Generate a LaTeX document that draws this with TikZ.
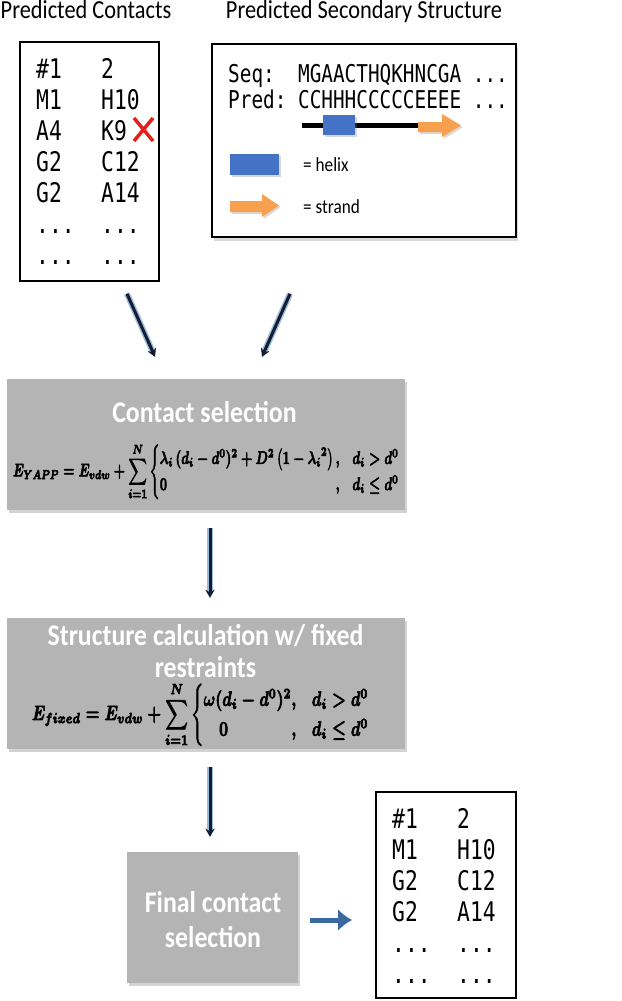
\documentclass[tikz,border=0pt]{standalone}
\usepackage{amsmath}
\usepackage{bm}
\usepackage{graphicx}
\usepackage[no-math]{fontspec}
\setmainfont{Carlito}[FakeStretch=0.86]
\newfontfamily\codefont{DejaVu Sans Mono}[FakeStretch=0.79]
\usetikzlibrary{arrows.meta,shadows}

\definecolor{helixblue}{RGB}{68,114,196}
\definecolor{strandorange}{RGB}{247,160,80}
\definecolor{boxgray}{RGB}{180,180,180}
\definecolor{navy}{RGB}{20,28,50}
\definecolor{glowblue}{RGB}{90,140,200}
\definecolor{steelblue}{RGB}{58,104,160}
\definecolor{crossred}{RGB}{228,32,28}
\newcommand{\tdots}{...}
% heavier strokes for the energy terms
\newcommand{\heavyon}{\special{pdf:literal direct 2 Tr 0.35 w}}
\newcommand{\heavyoff}{\special{pdf:literal direct 0 Tr}}

\begin{document}
\begin{tikzpicture}[x=1pt,y=-1pt,
  framebox/.style={draw=black, line width=1.6pt, inner sep=0pt},
  stepbox/.style={fill=boxgray, inner sep=0pt, drop shadow={shadow xshift=2pt,shadow yshift=-3pt,opacity=0.35}},
  steptitle/.style={text=white, font=\fontsize{30}{32}\selectfont\bfseries, anchor=base, align=center, inner sep=0pt},
  heading/.style={font=\fontsize{26}{28}\selectfont, anchor=base, inner sep=0pt},
  listtext/.style={font=\codefont\fontsize{27}{29}\selectfont, anchor=base west, inner sep=0pt},
  seqtext/.style={font=\codefont\fontsize{24.5}{26}\selectfont, anchor=base west, inner sep=0pt},
  legendtext/.style={font=\fontsize{20}{22}\selectfont, anchor=base west, inner sep=0pt},
  smallshadow/.style={drop shadow={shadow xshift=1.5pt,shadow yshift=-2pt,opacity=0.3}},
  flow/.style={draw=navy, line width=3pt, -{Stealth[length=8pt,width=9pt]},
    preaction={draw=glowblue, line width=6pt, opacity=0.6}},
  resultarrow/.style={draw=steelblue, line width=5pt, -{Latex[length=14pt,width=22pt]}},
]
\useasboundingbox (0,0) rectangle (621,1001);

% titles
\node[heading] (titlecontacts) at (86,18) {Predicted Contacts};
\node[heading] (titless) at (364,18) {Predicted Secondary Structure};

% predicted contact list
\node[framebox, minimum width=139pt, minimum height=239pt] (contacts) at (89.5,161.5) {};
\foreach \a/\b [count=\k from 0] in {\#1/2, M1/H10, A4/K9, G2/C12, G2/A14, \tdots/\tdots, \tdots/\tdots} {
  \node[listtext] (ca\k) at (36,78+31*\k) {\a};
  \node[listtext] (cb\k) at (101,78+31*\k) {\b};
}
% rejected contact
\draw[crossred, line width=3.5pt, smallshadow] (134,118) -- (153,141) (153,118) -- (134,141);

% secondary structure box
\node[framebox, minimum width=304pt, minimum height=193pt,
  drop shadow={shadow xshift=2pt,shadow yshift=-4pt,opacity=0.3}, fill=white] (ssbox) at (364,140.5) {};
\node[seqtext] (seq) at (228,82) {Seq:\ \ MGAACTHQKHNCGA\ ...};
\node[seqtext] (pred) at (228,108) {Pred:\ CCHHHCCCCCEEEE\ ...};
\draw[line width=5pt, smallshadow] (302,125) -- (420,125);
\fill[helixblue, smallshadow] (323,115) rectangle (355,135);
\fill[strandorange, smallshadow] (418,122) -- (442,122) -- (442,114) -- (461,125.5)
  -- (442,137) -- (442,132) -- (418,132) -- cycle;
% legend
\fill[helixblue, smallshadow] (230,154) rectangle (279,175);
\node[legendtext] (lhelix) at (303,171) {= helix};
\fill[strandorange, smallshadow] (230,201) -- (262,201) -- (262,194) -- (279,205.5)
  -- (262,217) -- (262,212) -- (230,212) -- cycle;
\node[legendtext] (lstrand) at (303,213) {= strand};

% contact selection
\node[stepbox, minimum width=398pt, minimum height=131pt] (select) at (206,444.5) {};
\node[steptitle] (selecttitle) at (204.5,422) {Contact selection};
\node[inner sep=0pt] (selecteq) at (206.5,471.5) {\resizebox*{387pt}{57pt}{\heavyon\boldmath$\displaystyle
  \bm{E}_{\bm{YAPP}} = \bm{E}_{\bm{vdw}} + \sum_{i=1}^{N}\begin{cases}\bm{\lambda_i\,(d_i - d^0)^2 + D^2\left(1-{\lambda_i}^2\right),} & \bm{d_i > d^0}\\
  \bm{0}\hfill\bm{,} & \bm{d_i \le d^0}\end{cases}$\heavyoff}};

% structure calculation
\node[stepbox, minimum width=398pt, minimum height=131pt] (struct) at (206,683.5) {};
\node[steptitle] (structtitle) at (205.5,677) {Structure calculation w/ fixed\\restraints};
\node[inner sep=0pt] (structeq) at (201,714.5) {\resizebox*{338pt}{65pt}{\heavyon\boldmath$\displaystyle
  \bm{E}_{\bm{fixed}} = \bm{E}_{\bm{vdw}} + \sum_{i=1}^{N}\begin{cases}\bm{\omega(d_i - d^0)^2,} & \bm{d_i > d^0}\\
  \quad\bm{0}\hfill\bm{,} & \bm{d_i \le d^0}\end{cases}$\heavyoff}};

% final selection
\node[stepbox, minimum width=171pt, minimum height=131pt] (final) at (212.5,917.5) {};
\node[steptitle, font=\fontsize{30}{35}\selectfont\bfseries] (finaltitle) at (213,947) {Final contact\\selection};

% resulting contact list
\node[framebox, minimum width=140pt, minimum height=206pt] (result) at (446,895) {};
\foreach \a/\b [count=\k from 0] in {\#1/2, M1/H10, G2/C12, G2/A14, \tdots/\tdots, \tdots/\tdots} {
  \node[listtext] (ra\k) at (392,828+31*\k) {\a};
  \node[listtext] (rb\k) at (457,828+31*\k) {\b};
}

% arrows
\draw[flow] ([xshift=37.5pt,yshift=-12pt]contacts.south) -- ([xshift=-51pt,yshift=22pt]select.north);
\draw[flow] ([xshift=-74pt,yshift=-56pt]ssbox.south) -- ([xshift=56pt,yshift=22pt]select.north);
\draw[flow, shorten <=18pt, shorten >=20pt] ([xshift=4pt]select.south) -- ([xshift=4pt]struct.north);
\draw[flow, shorten <=18pt, shorten >=15pt] ([xshift=4pt]struct.south) -- ([xshift=-2.5pt]final.north);
\draw[resultarrow, shorten <=12pt, shorten >=23pt] ([yshift=-2.5pt]final.east) -- ([yshift=-2.5pt]final.east -| result.west);
\end{tikzpicture}
\end{document}
